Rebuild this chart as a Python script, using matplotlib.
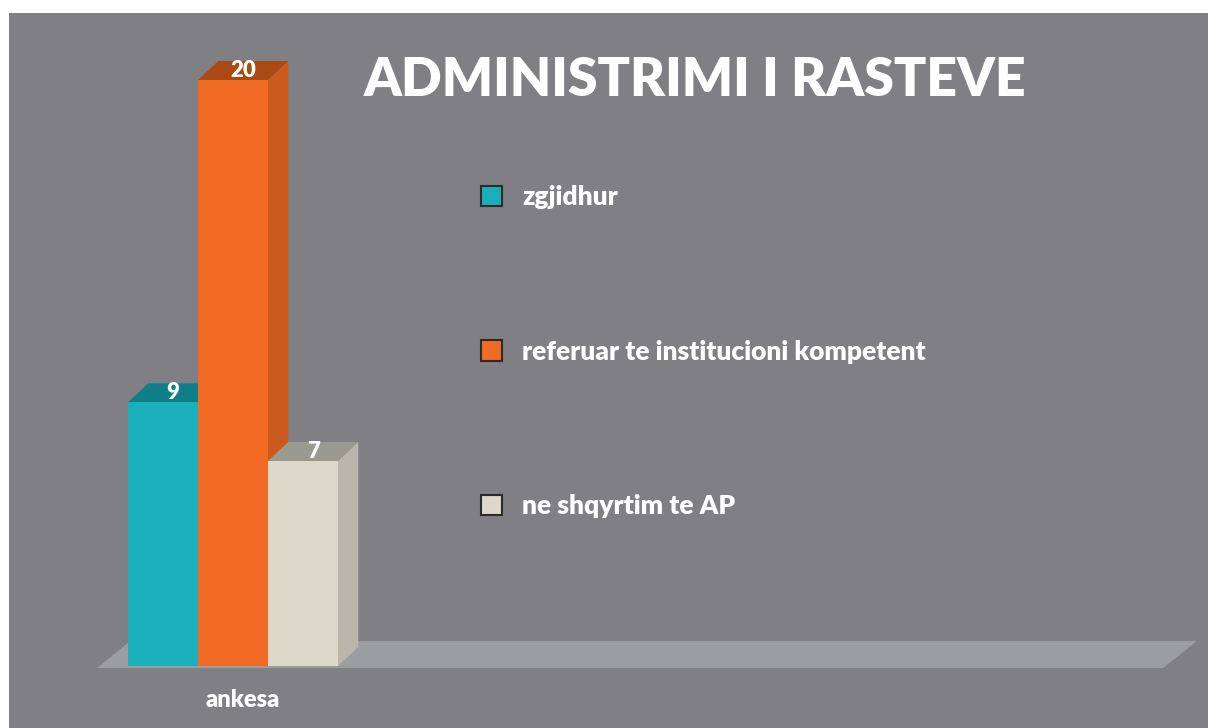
import matplotlib.pyplot as plt
from matplotlib.patches import Polygon, Rectangle, Patch

# data
categories = ['ankesa']
series = ['zgjidhur', 'referuar te institucioni kompetent', 'ne shqyrtim te AP']
values = [9, 20, 7]
title = 'ADMINISTRIMI I RASTEVE'

# colours (front, top, side of each 3d bar)
front_colors = ['#1aafbb', '#f26b25', '#ddd8c9']
top_colors = ['#0e7f86', '#a94a14', '#9b9a90']
side_colors = ['#13949e', '#cb5a1e', '#b9b7ab']
bg = '#808084'
floor_color = '#9c9da1'

plt.rcParams['font.family'] = ['Lato', 'DejaVu Sans']

W, H = 1208, 728
fig = plt.figure(figsize=(W / 100, H / 100), dpi=100, facecolor='white')
ax = fig.add_axes([9 / W, 0, (W - 9) / W, 715 / H])
ax.set_facecolor(bg)
ax.set_xlim(-1.7, 15.43)
ax.set_ylim(-2.116, 22.287)
ax.set_xticks([])
ax.set_yticks([])
for s in ax.spines.values():
    s.set_visible(False)

# depth of the fake 3d
dx, dy = 0.29, 0.65

# floor
ax.add_patch(Polygon([(-0.44, -0.07), (14.79, -0.07), (15.27, 0.85), (0.03, 0.85)],
                     closed=True, facecolor=floor_color, edgecolor='none', zorder=1))

for i, v in enumerate(values):
    x0, x1 = i, i + 1
    ax.add_patch(Polygon([(x1, 0), (x1 + dx, dy), (x1 + dx, v + dy), (x1, v)],
                         facecolor=side_colors[i], edgecolor='none', zorder=2 + i))
    ax.add_patch(Polygon([(x0, v), (x1, v), (x1 + dx, v + dy), (x0 + dx, v + dy)],
                         facecolor=top_colors[i], edgecolor='none', zorder=2 + i))
    ax.add_patch(Rectangle((x0, 0), 1, v, facecolor=front_colors[i],
                           edgecolor='none', zorder=2 + i))
    ax.text(x0 + 0.5 + dx / 2, v + dy / 2, str(v), ha='center', va='center',
            color='white', fontsize=16, fontweight='heavy', zorder=10)

ax.text(len(series) / 2 + dx / 2, -1.16, categories[0], ha='center', va='center',
        color='white', fontsize=17, fontweight='heavy')

handles = [Patch(facecolor=c, edgecolor='#2b2b2b', linewidth=1.5) for c in front_colors]
leg = ax.legend(handles, series, loc='upper left', bbox_to_anchor=(481 / W, 1 - 185 / H),
                bbox_transform=fig.transFigure, frameon=False, borderpad=0,
                borderaxespad=0, fontsize=19, handlelength=0.8, handleheight=0.8,
                handletextpad=0.76, labelspacing=4.95)
for t in leg.get_texts():
    t.set_color('white')
    t.set_fontweight('heavy')

fig.text(695 / W, 1 - 81 / H, title, ha='center', va='center', color='white',
         fontsize=38.5, fontweight='heavy')

fig.savefig('out.png', dpi=100, facecolor='white')
